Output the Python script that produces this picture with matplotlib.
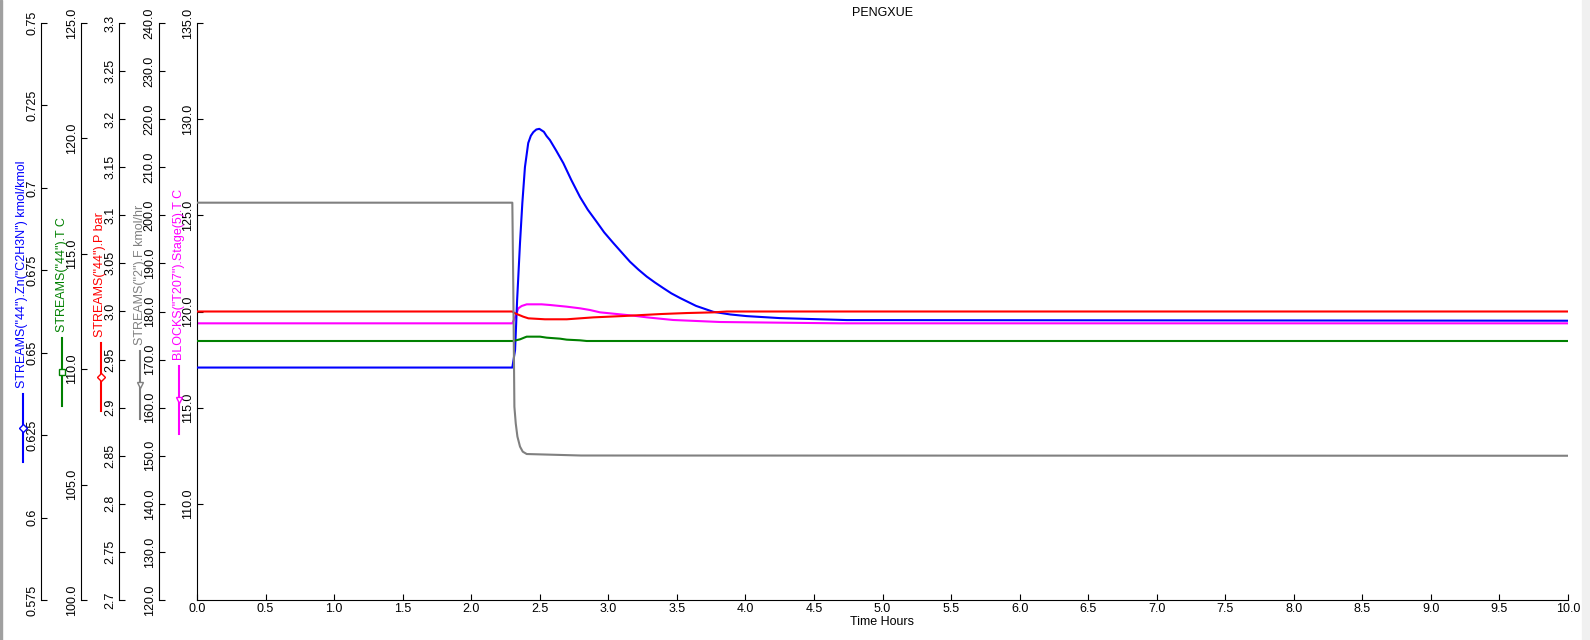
import matplotlib
matplotlib.use("Agg")
import matplotlib.pyplot as plt
from matplotlib.lines import Line2D
from matplotlib.patches import Rectangle
from matplotlib.ticker import MultipleLocator, FixedLocator, FuncFormatter

plt.rcParams["font.family"] = ["Liberation Sans", "DejaVu Sans"]
plt.rcParams["font.size"] = 9

# ---- data (time in hours) ----
blue_t = [0, 2.30, 2.32, 2.335, 2.356, 2.373, 2.392, 2.416, 2.435, 2.453, 2.475,
          2.497, 2.53, 2.55, 2.574, 2.62, 2.672, 2.73, 2.794, 2.85, 2.915, 2.97,
          3.036, 3.10, 3.158, 3.22, 3.280, 3.34, 3.401, 3.46, 3.523, 3.64, 3.766,
          3.89, 4.01, 4.25, 4.74, 10]
blue_v = [0.6455, 0.6455, 0.6508, 0.6660, 0.6833, 0.6954, 0.7063, 0.7136, 0.7158,
          0.7169, 0.7177, 0.7179, 0.7170, 0.7157, 0.7145, 0.7113, 0.7075, 0.7024,
          0.6972, 0.6934, 0.6897, 0.6865, 0.6833, 0.6803, 0.6776, 0.6752, 0.6731,
          0.6713, 0.6696, 0.6680, 0.6666, 0.6642, 0.6624, 0.6616, 0.6611, 0.6605,
          0.6599, 0.6597]

green_t = [0, 2.307, 2.356, 2.392, 2.405, 2.502, 2.551, 2.648, 2.697, 2.794, 2.842, 10]
green_v = [111.222, 111.222, 111.294, 111.381, 111.410, 111.410, 111.366, 111.323,
           111.280, 111.251, 111.222, 111.222]

red_t = [0, 2.30, 2.32, 2.38, 2.417, 2.538, 2.697, 2.794, 2.891, 3.11, 3.255, 3.39,
         3.572, 3.766, 3.864, 10]
red_v = [3.0, 3.0, 2.9981, 2.9946, 2.9929, 2.9919, 2.9919, 2.9929, 2.9939, 2.9953,
         2.9964, 2.9974, 2.9984, 2.9991, 3.0, 3.0]

gray_t = [0, 2.300, 2.307, 2.315, 2.325, 2.337, 2.356, 2.376, 2.405, 2.8, 10]
gray_v = [202.63, 202.63, 184.9, 160.2, 156.7, 154.0, 151.9, 150.85, 150.36, 150.05, 150.0]

mag_t = [0, 2.30, 2.32, 2.344, 2.368, 2.405, 2.514, 2.575, 2.697, 2.794, 2.866, 2.939,
         3.061, 3.183, 3.280, 3.377, 3.474, 3.645, 3.815, 4.252, 4.69, 10]
mag_v = [119.385, 119.385, 119.7, 120.165, 120.286, 120.373, 120.373, 120.338,
         120.251, 120.165, 120.078, 119.957, 119.870, 119.783, 119.697, 119.627,
         119.558, 119.506, 119.454, 119.419, 119.385, 119.385]

labels = ['STREAMS("44").Zn("C2H3N") kmol/kmol', 'STREAMS("44").T C',
          'STREAMS("44").P bar', 'STREAMS("2").F kmol/hr',
          'BLOCKS("T207").Stage(5).T C']
colors = ["#0000ff", "#008000", "#ff0000", "#808080", "#ff00ff"]
markers = ["D", "s", "D", "v", "v"]
limits = [(0.575, 0.75), (100, 125), (2.7, 3.3), (120, 240), (105, 135)]
steps = [0.025, 5, 0.05, 10, 5]
main_ticks = [110, 115, 120, 125, 130, 135]


def short_fmt(v, pos=None):
    s = f"{v:.3f}".rstrip("0")
    if s.endswith("."):
        s += "0"
    return s


W, H = 1590, 640
fig = plt.figure(figsize=(W / 100, H / 100), dpi=100)
left, right, top, bottom = 197, 1568, 23, 600
ax = fig.add_axes([left / W, 1 - bottom / H, (right - left) / W, (bottom - top) / H])

# pixel x of each extra axis spine
spine_x = [41, 81, 119, 158.5]
series = [(blue_t, blue_v), (green_t, green_v), (red_t, red_v), (gray_t, gray_v)]

axes = []
for i in range(4):
    a = ax.twinx()
    a.spines[["right", "top", "bottom"]].set_visible(False)
    a.spines["left"].set_visible(True)
    a.spines["left"].set_position(("axes", (spine_x[i] - left) / (right - left)))
    a.yaxis.set_ticks_position("left")
    a.set_ylim(*limits[i])
    a.yaxis.set_major_locator(MultipleLocator(steps[i]))
    if i in (0, 2):
        a.yaxis.set_major_formatter(FuncFormatter(short_fmt))
    else:
        a.yaxis.set_major_formatter(FuncFormatter(lambda v, p: f"{v:.1f}"))
    axes.append(a)

# main axis carries the magenta series
ax.set_xlim(0, 10)
ax.set_ylim(*limits[4])
ax.yaxis.set_major_locator(FixedLocator(main_ticks))
ax.yaxis.set_major_formatter(FuncFormatter(lambda v, p: f"{v:.1f}"))
ax.xaxis.set_major_locator(MultipleLocator(0.5))
ax.xaxis.set_major_formatter(FuncFormatter(lambda v, p: f"{v:.1f}"))
ax.spines[["right", "top"]].set_visible(False)
ax.tick_params(axis="x", direction="in", length=4, pad=2)
ax.plot(mag_t, mag_v, color=colors[4], lw=1.5)

for a, (t, v), c in zip(axes, series, colors):
    a.plot(t, v, color=c, lw=1.5)

for a in axes + [ax]:
    a.tick_params(axis="y", direction="in", length=4, pad=2, labelrotation=90)
    for lab in a.get_yticklabels():
        lab.set_va("center")

ax.set_title("PENGXUE", fontsize=9, pad=5)
ax.set_xlabel("Time Hours", labelpad=1)

# legend groups: coloured name above a short line with marker
r = fig.canvas.get_renderer()
label_x = [22.5, 61.5, 100.5, 140, 179]
seg, gap = 68, 6
yc = (top + bottom) / 2
for x, lab, c, mk in zip(label_x, labels, colors, markers):
    txt = fig.text(x / W, 0, lab, color=c, rotation=90, ha="center", va="bottom")
    th = txt.get_window_extent(r).height
    bot = yc + (th + gap + seg) / 2
    txt.set_y(1 - (bot - seg - gap) / H)
    fig.add_artist(Line2D([x / W, x / W], [1 - bot / H, 1 - (bot - seg) / H],
                          color=c, lw=1.5, transform=fig.transFigure))
    fig.add_artist(Line2D([x / W], [1 - (bot - seg / 2) / H], marker=mk, ms=4.5,
                          mfc="white", mec=c, mew=1, color=c,
                          transform=fig.transFigure))

# window edges seen in the screenshot
fig.add_artist(Rectangle((0, 0), 1.5 / W, 1, color="#a0a0a0", transform=fig.transFigure))
fig.add_artist(Rectangle((1582 / W, 0), 8 / W, 1, color="#f0f0f0", transform=fig.transFigure))

fig.savefig("out.png", dpi=100)
